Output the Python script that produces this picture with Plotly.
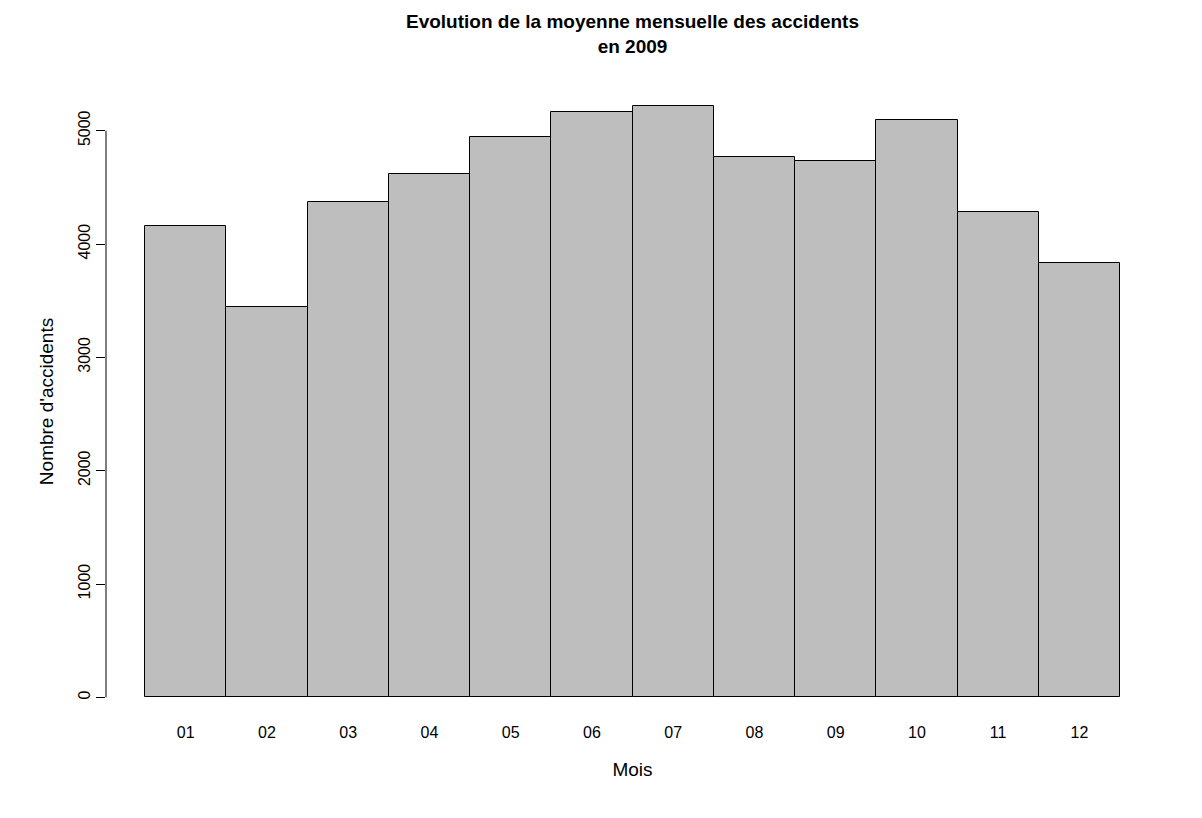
import plotly.graph_objects as go

mois = ["01", "02", "03", "04", "05", "06", "07", "08", "09", "10", "11", "12"]
accidents = [4161, 3445, 4373, 4620, 4947, 5168, 5221, 4770, 4735, 5097, 4284, 3834]
y_ticks = [0, 1000, 2000, 3000, 4000, 5000]

centers = [i + 0.5 for i in range(len(mois))]
top = max(accidents) * 1.04
bottom = -max(accidents) * 0.04

fig = go.Figure()
fig.add_trace(go.Bar(x=centers, y=accidents, width=1,
                     marker=dict(color="#bebebe", line=dict(color="black", width=1))))

fig.add_shape(type="line", xref="paper", yref="y", x0=0, x1=0, y0=0, y1=5000,
              line=dict(color="black", width=1))

fig.update_layout(
    width=1202, height=818,
    plot_bgcolor="white", paper_bgcolor="white",
    margin=dict(l=98, r=51, t=74, b=105),
    font=dict(family="Liberation Sans, Arial", size=16, color="black"),
    title=dict(text="<b>Evolution de la moyenne mensuelle des accidents<br>en 2009</b>",
               x=(98 + 1151) / 2 / 1202, xanchor="center", y=0.975, yanchor="top",
               font=dict(size=19)),
    showlegend=False,
    bargap=0,
)
fig.update_xaxes(range=[-0.48, 12.48], tickvals=centers, ticktext=mois,
                 showgrid=False, zeroline=False, showline=False, ticks="",
                 title=dict(text="Mois", standoff=22))
fig.update_yaxes(range=[bottom, top], tickvals=y_ticks, tickangle=-90,
                 showgrid=False, zeroline=False, showline=False,
                 ticks="outside", ticklen=9, tickcolor="black",
                 title=dict(text="Nombre d'accidents", standoff=16))

fig.write_html("out.html")
